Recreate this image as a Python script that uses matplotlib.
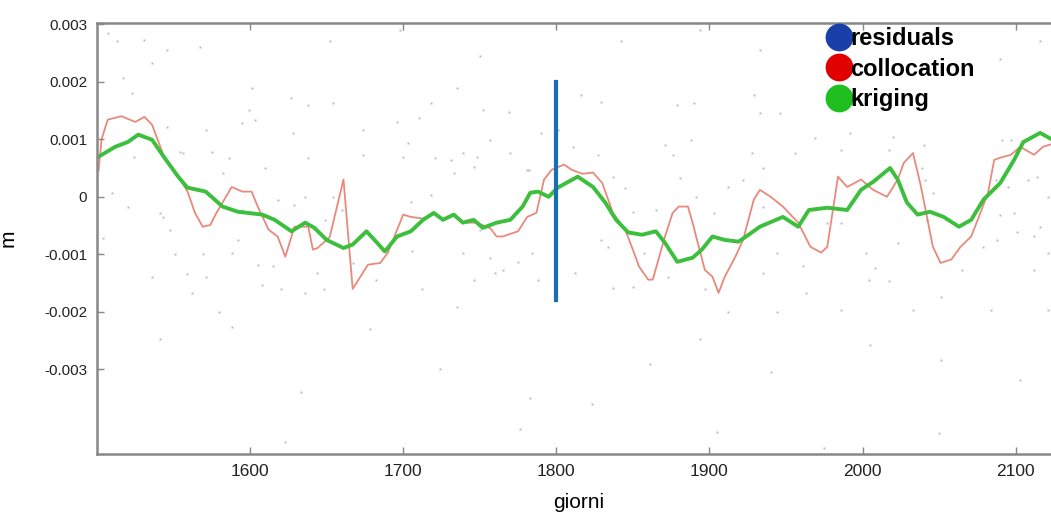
import numpy as np
import matplotlib
matplotlib.use("Agg")
import matplotlib.pyplot as plt
from matplotlib.lines import Line2D

# values, y in millimetres (converted to m below)
kriging_day = [1500, 1512, 1520, 1527, 1536, 1544, 1553, 1559, 1571, 1582, 1592, 1608,
               1616, 1627, 1636, 1642, 1650, 1661, 1667, 1676, 1683, 1688, 1696, 1705,
               1713, 1720, 1726, 1733, 1739, 1746, 1752, 1761, 1770, 1778, 1783, 1788,
               1795, 1801, 1814, 1824, 1832, 1839, 1847, 1856, 1865, 1871, 1879, 1889,
               1895, 1902, 1910, 1919, 1924, 1933, 1948, 1958, 1965, 1977, 1990, 1999,
               2007, 2018, 2023, 2029, 2036, 2044, 2053, 2063, 2071, 2079, 2090, 2099,
               2105, 2116, 2129]
kriging_mm = [0.68, 0.87, 0.95, 1.08, 0.99, 0.68, 0.35, 0.16, 0.09, -0.17, -0.26, -0.31,
              -0.40, -0.60, -0.45, -0.54, -0.75, -0.89, -0.83, -0.60, -0.80, -0.95, -0.69, -0.60,
              -0.40, -0.28, -0.40, -0.31, -0.45, -0.40, -0.54, -0.45, -0.40, -0.17, 0.07, 0.09,
              0.00, 0.16, 0.35, 0.17, -0.10, -0.40, -0.62, -0.66, -0.60, -0.80, -1.13, -1.06,
              -0.92, -0.69, -0.75, -0.78, -0.69, -0.52, -0.35, -0.52, -0.23, -0.19, -0.23, 0.12,
              0.26, 0.50, 0.30, -0.10, -0.31, -0.26, -0.35, -0.52, -0.40, -0.05, 0.24, 0.64,
              0.95, 1.11, 0.92]

colloc_day = [1501, 1503, 1507, 1516, 1525, 1531, 1536, 1544, 1553, 1559, 1564, 1569,
              1574, 1578, 1582, 1588, 1595, 1601, 1605, 1612, 1618, 1623, 1629, 1638,
              1641, 1644, 1652, 1661, 1667, 1672, 1677, 1685, 1690, 1700, 1705, 1713,
              1720, 1726, 1733, 1739, 1748, 1757, 1761, 1765, 1775, 1781, 1787, 1792,
              1797, 1805, 1810, 1817, 1824, 1830, 1837, 1845, 1850, 1854, 1860, 1863,
              1871, 1876, 1880, 1886, 1889, 1897, 1902, 1906, 1910, 1917, 1922, 1929,
              1933, 1940, 1948, 1958, 1966, 1973, 1977, 1984, 1990, 1999, 2007, 2016,
              2023, 2027, 2033, 2038, 2046, 2051, 2058, 2064, 2071, 2077, 2082, 2086,
              2090, 2097, 2103, 2112, 2118, 2129]
colloc_mm = [0.45, 1.00, 1.34, 1.40, 1.30, 1.39, 1.25, 0.68, 0.35, 0.10, -0.28, -0.52,
             -0.49, -0.28, -0.10, 0.17, 0.09, 0.09, -0.17, -0.57, -0.69, -1.04, -0.52, -0.52,
             -0.92, -0.89, -0.70, 0.30, -1.60, -1.39, -1.18, -1.15, -0.97, -0.31, -0.35, -0.38,
             -0.30, -0.40, -0.31, -0.45, -0.45, -0.55, -0.69, -0.69, -0.60, -0.35, -0.28, 0.30,
             0.47, 0.56, 0.47, 0.40, 0.42, 0.24, -0.28, -0.57, -0.92, -1.21, -1.44, -1.44,
             -0.69, -0.28, -0.17, -0.17, -0.45, -1.27, -1.39, -1.67, -1.39, -1.04, -0.75, -0.05,
             0.12, 0.00, -0.17, -0.45, -0.87, -0.97, -0.87, 0.35, 0.17, 0.30, 0.12, 0.00,
             0.30, 0.59, 0.76, 0.20, -0.87, -1.15, -1.09, -0.87, -0.69, -0.28, 0.07, 0.64,
             0.68, 0.73, 0.87, 0.73, 0.87, 0.96]

resid_day = [1507, 1513, 1531, 1546, 1536, 1517, 1523, 1546, 1554, 1524, 1510, 1520,
             1541, 1543, 1548, 1504, 1551, 1559, 1536, 1562, 1601, 1599, 1603, 1595,
             1571, 1628, 1638, 1627, 1556, 1575, 1586, 1582, 1638, 1610, 1636, 1618,
             1629, 1595, 1592, 1569, 1588, 1605, 1615, 1571, 1620, 1636, 1580, 1608,
             1654, 1674, 1696, 1710, 1718, 1735, 1752, 1769, 1703, 1674, 1700, 1721,
             1731, 1739, 1748, 1757, 1733, 1746, 1770, 1781, 1718, 1705, 1654, 1660,
             1649, 1667, 1644, 1682, 1706, 1739, 1757, 1765, 1760, 1746, 1775, 1712,
             1735, 1750, 1648, 1829, 1816, 1801, 1790, 1811, 1827, 1837, 1845, 1871,
             1876, 1888, 1881, 1891, 1879, 1890, 1912, 1903, 1865, 1850, 1829, 1834,
             1857, 1784, 1812, 1837, 1850, 1873, 1897, 1912, 1788, 1782, 1929, 1933,
             1946, 1956, 1928, 1935, 1922, 1969, 1992, 1986, 2017, 2020, 2040, 2039,
             2041, 1977, 1986, 2002, 2008, 2004, 2017, 1944, 1961, 1963, 1944, 1986,
             2033, 2051, 2042, 1935, 2023, 1935, 2046, 2091, 2097, 2087, 2095, 2108,
             2114, 2121, 2090, 2099, 2101, 2116, 2112, 2088, 2079, 2065, 2121, 2112,
             2121, 1623, 1776, 1905, 2050, 1975, 1588, 1678, 1724, 1783, 1823, 1861,
             1940, 2005, 2084, 2103, 1541, 1633, 1894, 2051, 1567, 1652, 1698, 1750,
             1842, 1894, 1933, 1992, 2090, 2116]
resid_mm = [2.85, 2.70, 2.73, 2.55, 2.33, 2.07, 1.80, 1.22, 0.78, 0.69, 0.07, -0.17,
            -0.28, -0.36, -0.57, -0.71, -1.00, -1.35, -1.39, -1.67, 1.89, 1.51, 1.34, 1.28,
            1.16, 1.10, 1.60, 1.72, 0.76, 0.78, 0.68, 0.42, 0.68, 0.50, 0.00, -0.05,
            -0.14, -0.23, -0.75, -1.00, -0.97, -1.18, -1.21, -1.39, -1.61, -1.67, -2.00, -1.53,
            1.63, 1.16, 1.30, 1.37, 1.63, 1.89, 1.51, 1.48, 0.94, 0.73, 0.69, 0.68,
            0.64, 0.76, 0.69, 0.99, 0.42, 0.52, 0.76, 0.47, 0.03, -0.09, 0.00, -0.23,
            -0.40, -1.15, -1.32, -1.44, -0.95, -0.97, -1.06, -1.27, -1.32, -1.44, -1.13, -1.61,
            -1.91, -0.57, -1.61, 1.65, 1.77, 1.16, 1.10, 0.87, 0.73, 0.35, 0.16, 0.90,
            0.73, 0.99, 0.33, 0.00, 1.60, 1.63, 0.17, -0.28, -0.23, -0.26, -0.75, -0.87,
            -0.97, -0.97, -1.32, -1.58, -1.56, -1.39, -1.61, -2.00, -1.44, 0.47, 1.77, 1.46,
            1.46, 0.76, 0.76, 0.50, 0.30, 1.02, 1.10, 0.82, 0.82, 1.04, 0.90, 0.50,
            0.30, -0.45, -0.45, -0.97, -1.23, -1.44, -1.47, -0.97, -1.21, -1.67, -2.00, -1.96,
            -1.96, -1.75, -0.40, -0.17, -0.80, -1.32, 0.07, 0.99, 0.99, 0.30, 0.17, 0.30,
            0.35, 0.00, -0.31, -0.28, -0.62, -0.52, -0.69, -0.75, -0.87, -1.27, -0.97, -1.27,
            -1.96, -4.27, -4.04, -4.08, -4.10, -4.36, -2.26, -2.30, -3.00, -3.50, -3.60, -2.90,
            -3.05, -2.57, -1.96, -3.18, -2.48, -3.40, -2.48, -2.83, 2.60, 2.70, 2.90, 2.45,
            2.70, 2.90, 2.55, 2.40, 2.40, 2.70]

marker_day = 1800
marker_mm = [-1.8, 2.0]

ytick_vals = [-0.003, -0.002, -0.001, 0, 0.001, 0.002, 0.003]
ytick_labels = ['-0.003', '-0.002', '-0.001', '0', '0.001', '0.002', '0.003']
xtick_vals = [1600, 1700, 1800, 1900, 2000, 2100]

mm = 1e-3

fig = plt.figure(figsize=(10.51, 5.15), dpi=100)
W, H = 1051.0, 515.0
# axes runs a little past the right edge, like the cropped original
ax = fig.add_axes([97 / W, (H - 454) / H, (1060 - 97) / W, (454 - 23) / H])

ax.plot(resid_day, np.array(resid_mm) * mm, ls='none', marker='s', ms=2,
        color='#6a7fa8', alpha=0.5, mec='none')
ax.plot(colloc_day, np.array(colloc_mm) * mm, color='#e2624f', lw=1.3, alpha=0.75)
ax.plot(kriging_day, np.array(kriging_mm) * mm, color='#3cbf3c', lw=2.8)
ax.plot([marker_day, marker_day], np.array(marker_mm) * mm, color='#1b6db3', lw=3)

ax.set_xlim(1500, 2129)
ax.set_ylim(-0.00447, 0.00302)
ax.set_xticks(xtick_vals)
ax.set_xticklabels([str(v) for v in xtick_vals], family='Liberation Sans', fontsize=12.5)
ax.set_yticks(ytick_vals)
ax.set_yticklabels(ytick_labels, family='Liberation Sans', fontsize=11)
ax.tick_params(direction='in', length=5, width=1, color='#888888', top=True, right=False,
               labelcolor='#222222', pad=7)
for s in ['left', 'bottom', 'top']:
    ax.spines[s].set_color('#888888')
    ax.spines[s].set_linewidth(1.8)
ax.spines['right'].set_visible(False)

ax.set_xlabel('giorni', family='Liberation Sans', fontsize=15, labelpad=10)
ax.set_ylabel('m', family='Liberation Sans', fontsize=15)
ax.yaxis.set_label_coords((18 - 97) / 963, 0.5)

handles = [Line2D([], [], ls='none', marker='o', ms=20, color=c, mec='none')
           for c in ['#1a3fa8', '#e00000', '#1fbf1f']]
leg = fig.legend(handles, ['residuals', 'collocation', 'kriging'], loc='upper left',
                 bbox_to_anchor=(822 / W, (H - 27) / H), frameon=False, handletextpad=-0.2,
                 handlelength=1.4, labelspacing=0.32, borderaxespad=0, borderpad=0,
                 prop={'family': 'Liberation Sans', 'size': 17, 'weight': 'bold'})

fig.savefig('out.png', dpi=100)
